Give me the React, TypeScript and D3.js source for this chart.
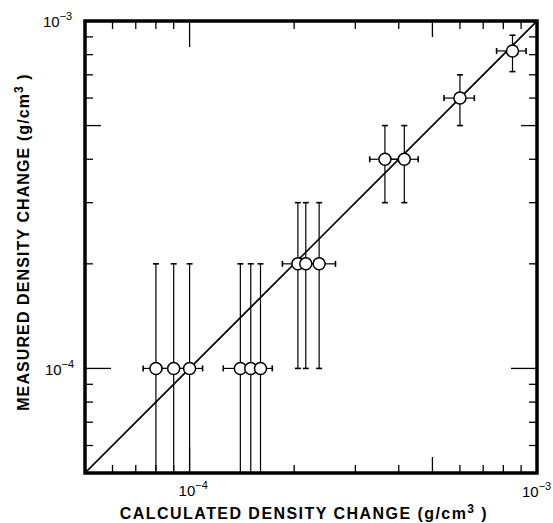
import React from "react";
import * as d3 from "d3";

const calc = [8e-5, 9e-5, 1.0e-4, 1.4e-4, 1.5e-4, 1.6e-4, 2.05e-4, 2.16e-4, 2.36e-4, 3.65e-4, 4.15e-4, 6.0e-4, 8.5e-4];
const meas = [1e-4, 1e-4, 1e-4, 1e-4, 1e-4, 1e-4, 2e-4, 2e-4, 2e-4, 4e-4, 4e-4, 6e-4, 8.2e-4];
const calcLo = [7.35e-5, 8.3e-5, 9.2e-5, 1.25e-4, 1.38e-4, 1.48e-4, 1.85e-4, 1.98e-4, 2.15e-4, 3.3e-4, 3.75e-4, 5.4e-4, 7.65e-4];
const calcHi = [8.7e-5, 9.8e-5, 1.09e-4, 1.52e-4, 1.62e-4, 1.73e-4, 2.2e-4, 2.35e-4, 2.63e-4, 4.0e-4, 4.55e-4, 6.6e-4, 9.3e-4];
const measLo = [null, null, null, null, null, null, 1e-4, 1e-4, 1e-4, 3e-4, 3e-4, 5e-4, 7.15e-4];
const measHi = [2e-4, 2e-4, 2e-4, 2e-4, 2e-4, 2e-4, 3e-4, 3e-4, 3e-4, 5e-4, 5e-4, 7e-4, 9.1e-4];
const domainMin = 5e-5;
const domainMax = 1e-3;

export default function App() {
  const W = 553, H = 523;
  const L = 85, R = 537, T = 21, B = 473;
  const x = d3.scaleLog().domain([domainMin, domainMax]).range([L, R]);
  const y = d3.scaleLog().domain([domainMin, domainMax]).range([B, T]);
  const ticks = x.ticks();
  const isDecade = (v: number) => Math.abs(Math.log10(v) - Math.round(Math.log10(v))) < 1e-6;
  const isFive = (v: number) => Math.abs(v / Math.pow(10, Math.floor(Math.log10(v) + 1e-9)) - 5) < 1e-6;
  const tlen = (v: number) => (isDecade(v) ? 26 : isFive(v) ? 16 : 8);
  const font = "'Liberation Sans', Arial, sans-serif";
  const cap = 3;
  const Lbl = ({ px, py, exp }: { px: number; py: number; exp: string }) => (
    <text x={px} y={py}>10<tspan dy={-7} fontSize={11}>{exp}</tspan></text>
  );
  return (
    <svg width={W} height={H} style={{ position: "absolute", left: 0, top: 0, background: "#fff" }}>
      <defs>
        <clipPath id="plot">
          <rect x={L} y={T} width={R - L} height={B - T} />
        </clipPath>
      </defs>
      <g clipPath="url(#plot)">
        <line x1={x(domainMin)} y1={y(domainMin)} x2={x(domainMax)} y2={y(domainMax)} stroke="#000" strokeWidth={1.6} />
        {calc.map((c, i) => {
          const cx = x(c), cy = y(meas[i]);
          const lo = measLo[i];
          const yLo = lo == null ? B + 5 : y(lo);
          const yHi = y(measHi[i]);
          return (
            <g key={i} stroke="#000" strokeWidth={1.2}>
              <line x1={cx} x2={cx} y1={yLo} y2={yHi} />
              <line x1={cx - cap} x2={cx + cap} y1={yHi} y2={yHi} strokeWidth={1.6} />
              {lo != null && <line x1={cx - cap} x2={cx + cap} y1={yLo} y2={yLo} strokeWidth={1.6} />}
              <line x1={x(calcLo[i])} x2={x(calcHi[i])} y1={cy} y2={cy} />
              <line x1={x(calcLo[i])} x2={x(calcLo[i])} y1={cy - cap} y2={cy + cap} strokeWidth={1.6} />
              <line x1={x(calcHi[i])} x2={x(calcHi[i])} y1={cy - cap} y2={cy + cap} strokeWidth={1.6} />
            </g>
          );
        })}
        {calc.map((c, i) => (
          <circle key={"c" + i} cx={x(c)} cy={y(meas[i])} r={6} fill="#fff" stroke="#000" strokeWidth={1.5} />
        ))}
      </g>
      <g stroke="#000" strokeWidth={1.3}>
        {ticks.filter((v) => v > domainMin && v < domainMax).map((v, i) => (
          <g key={i}>
            <line x1={x(v)} x2={x(v)} y1={B} y2={B - tlen(v)} />
            <line x1={x(v)} x2={x(v)} y1={T} y2={T + tlen(v)} />
            <line y1={y(v)} y2={y(v)} x1={L} x2={L + tlen(v)} />
            <line y1={y(v)} y2={y(v)} x1={R} x2={R - tlen(v)} />
          </g>
        ))}
      </g>
      <rect x={L} y={T} width={R - L} height={B - T} fill="none" stroke="#000" strokeWidth={3.5} />
      <g fontFamily={font} fontSize={15} fill="#000">
        <Lbl px={L - 42} py={y(1e-3) + 6} exp="−3" />
        <Lbl px={L - 40} py={y(1e-4) + 7} exp="−4" />
        <Lbl px={x(1e-4) - 11} py={B + 23} exp="−4" />
        <Lbl px={x(1e-3) - 15} py={B + 24} exp="−3" />
      </g>
      <g fontFamily={font} fontSize={16} fontWeight="bold" fill="#000">
        <text x={304} y={519} textAnchor="middle" letterSpacing={1.45}>
          CALCULATED DENSITY CHANGE (g/cm<tspan dy={-6} fontSize={12}>3</tspan><tspan dy={6}> )</tspan>
        </text>
        <text transform={`translate(29, 242) rotate(-90)`} textAnchor="middle" letterSpacing={1.1}>
          MEASURED DENSITY CHANGE (g/cm<tspan dy={-6} fontSize={12}>3</tspan><tspan dy={6}> )</tspan>
        </text>
      </g>
    </svg>
  );
}
